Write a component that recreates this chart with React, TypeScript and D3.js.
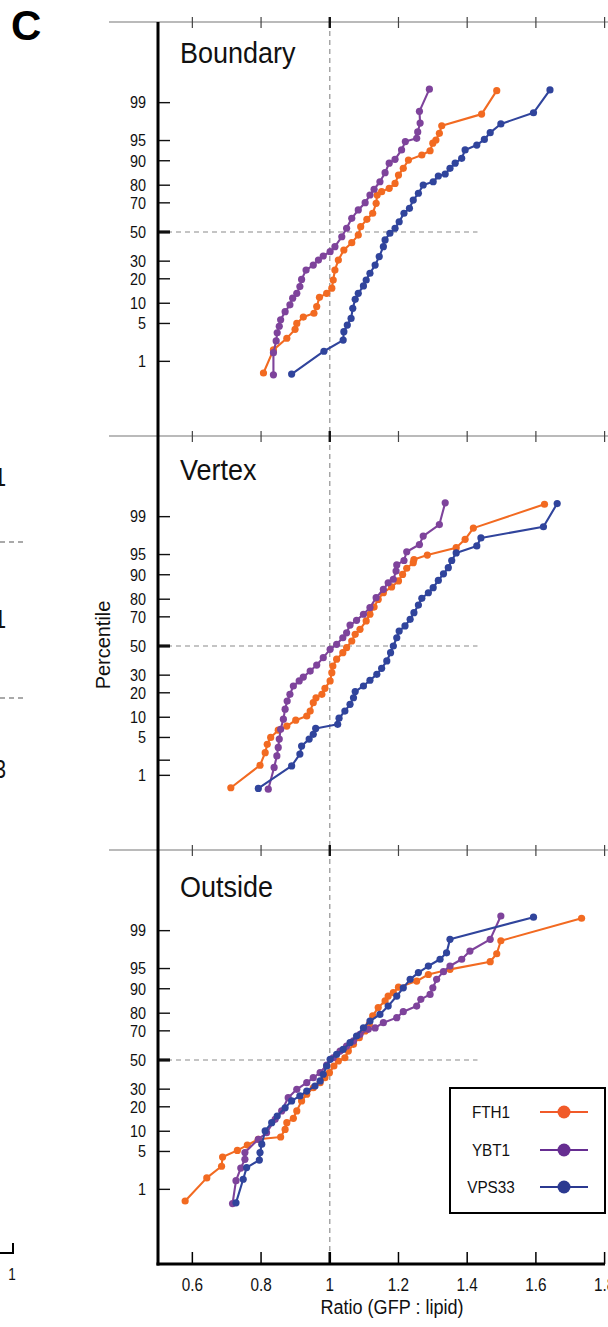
import { useEffect, useRef } from 'react'
import * as d3 from 'd3'

const panelNames = ['Boundary', 'Vertex', 'Outside']
const seriesNames = ['FTH1', 'YBT1', 'VPS33']
const xTicks = [0.6, 0.8, 1, 1.2, 1.4, 1.6, 1.8]
const xTickLabels = ['0.6', '0.8', '1', '1.2', '1.4', '1.6', '1.8']
const pctTicks = [1, 5, 10, 20, 30, 50, 70, 80, 90, 95, 99]
const pctTickLabels = ['1', '5', '10', '20', '30', '50', '70', '80', '90', '95', '99']
const vertexMinorTicks = [2]

// Boundary
const boundaryFTH1Ratio = [0.807, 0.836, 0.875, 0.899, 0.904, 0.923, 0.954, 0.962, 0.970, 0.991, 1.006, 1.010, 1.015, 1.025, 1.041, 1.064, 1.083, 1.090, 1.108, 1.125, 1.135, 1.138, 1.151, 1.173, 1.190, 1.200, 1.214, 1.229, 1.268, 1.292, 1.300, 1.309, 1.319, 1.326, 1.442, 1.486]
const boundaryFTH1Pct = [0.56, 1.7, 2.8, 4.0, 5.0, 6.3, 7.2, 9.0, 12.0, 13.5, 15.6, 19.4, 24.7, 30.7, 37.3, 42.4, 47.8, 53.8, 59.0, 63.2, 69.7, 74.7, 76.6, 78.4, 80.9, 84.7, 87.4, 90.2, 91.7, 92.8, 94.5, 95.1, 96.2, 97.2, 98.3, 99.45]
const boundaryYBT1Ratio = [0.836, 0.836, 0.844, 0.847, 0.853, 0.857, 0.870, 0.884, 0.892, 0.904, 0.913, 0.918, 0.931, 0.952, 0.967, 0.981, 1.001, 1.015, 1.035, 1.049, 1.064, 1.083, 1.103, 1.117, 1.129, 1.146, 1.161, 1.173, 1.190, 1.209, 1.220, 1.253, 1.256, 1.263, 1.261, 1.290]
const boundaryYBT1Pct = [0.51, 1.5, 2.5, 3.5, 4.5, 5.7, 7.6, 9.5, 11.7, 13.5, 16.3, 19.7, 24.7, 27.6, 30.7, 33.3, 36.2, 39.6, 46.6, 52.7, 59.7, 65.4, 70.1, 74.7, 77.9, 81.7, 85.7, 89.2, 90.45, 93.0, 94.8, 95.4, 96.4, 97.5, 98.5, 99.49]
const boundaryVPS33Ratio = [0.889, 0.983, 1.039, 1.041, 1.051, 1.062, 1.067, 1.074, 1.083, 1.098, 1.106, 1.117, 1.132, 1.144, 1.156, 1.161, 1.175, 1.190, 1.202, 1.216, 1.232, 1.243, 1.258, 1.272, 1.301, 1.316, 1.336, 1.350, 1.365, 1.384, 1.394, 1.428, 1.450, 1.467, 1.498, 1.593, 1.641]
const boundaryVPS33Pct = [0.53, 1.6, 2.6, 3.65, 4.7, 6.0, 8.5, 11.3, 13.5, 16.6, 19.4, 22.9, 27.6, 32.9, 39.6, 44.3, 49.1, 52.7, 57.3, 63.2, 66.5, 71.7, 75.7, 80.1, 81.7, 84.3, 85.15, 87.4, 89.2, 90.75, 93.0, 94.1, 95.2, 96.3, 97.4, 98.4, 99.47]

// Vertex
const vertexFTH1Ratio = [0.712, 0.797, 0.812, 0.818, 0.828, 0.850, 0.875, 0.901, 0.933, 0.943, 0.952, 0.960, 0.977, 0.986, 1.001, 1.006, 1.009, 1.020, 1.038, 1.049, 1.064, 1.074, 1.088, 1.106, 1.117, 1.129, 1.141, 1.156, 1.180, 1.200, 1.212, 1.224, 1.243, 1.245, 1.284, 1.368, 1.394, 1.418, 1.625]
const vertexFTH1Pct = [0.54, 1.6, 2.75, 3.85, 5.0, 6.5, 7.5, 9.1, 10.4, 12.1, 15.4, 17.6, 19.25, 22.3, 26.5, 31.6, 35.9, 40.6, 45.2, 48.8, 53.6, 58.3, 61.8, 67.4, 71.6, 75.8, 79.9, 83.1, 85.6, 87.9, 90.1, 91.9, 93.3, 94.0, 94.9, 96.15, 97.25, 98.3, 99.46]
const vertexYBT1Ratio = [0.821, 0.838, 0.846, 0.850, 0.853, 0.857, 0.865, 0.870, 0.876, 0.884, 0.894, 0.911, 0.923, 0.943, 0.962, 0.981, 1.001, 1.020, 1.038, 1.049, 1.059, 1.078, 1.098, 1.117, 1.135, 1.156, 1.170, 1.185, 1.193, 1.195, 1.216, 1.224, 1.261, 1.272, 1.319, 1.336]
const vertexYBT1Pct = [0.5, 1.45, 2.4, 3.4, 4.7, 6.7, 9.4, 12.8, 16.1, 19.25, 23.6, 26.5, 28.8, 32.6, 36.6, 41.7, 47.6, 51.2, 55.9, 59.4, 64.7, 67.8, 71.6, 75.5, 80.75, 84.6, 87.2, 88.5, 91.1, 92.75, 93.8, 95.5, 96.6, 97.6, 98.55, 99.5]
const vertexVPS33Ratio = [0.792, 0.889, 0.913, 0.918, 0.940, 0.952, 0.959, 1.023, 1.027, 1.044, 1.059, 1.069, 1.074, 1.098, 1.117, 1.137, 1.151, 1.166, 1.177, 1.185, 1.195, 1.202, 1.219, 1.234, 1.245, 1.258, 1.268, 1.287, 1.301, 1.316, 1.331, 1.345, 1.355, 1.368, 1.428, 1.440, 1.622, 1.662]
const vertexVPS33Pct = [0.52, 1.55, 2.6, 3.6, 4.7, 5.6, 6.9, 7.95, 9.7, 12.1, 14.7, 17.6, 20.6, 23.6, 26.9, 30.5, 34.4, 39.4, 45.2, 50, 55.9, 60.6, 64.1, 68.4, 72.55, 76.9, 80.45, 83.1, 85.3, 88.1, 90.3, 92.05, 93.8, 95.3, 96.4, 97.4, 98.4, 99.48]

// Outside
const outsideFTH1Ratio = [0.579, 0.642, 0.685, 0.688, 0.731, 0.760, 0.792, 0.857, 0.870, 0.875, 0.894, 0.904, 0.918, 0.933, 0.952, 0.972, 0.986, 0.999, 1.012, 1.025, 1.044, 1.054, 1.069, 1.086, 1.103, 1.115, 1.125, 1.141, 1.161, 1.170, 1.185, 1.200, 1.253, 1.287, 1.350, 1.467, 1.486, 1.498, 1.733]
const outsideFTH1Pct = [0.56, 1.7, 2.8, 4.05, 5.2, 6.3, 7.7, 8.3, 10.6, 13.0, 14.7, 18.0, 23.1, 26.9, 30.9, 34.2, 37.5, 41.0, 45.7, 49.3, 51.6, 56.4, 61.1, 65.6, 69.9, 73.95, 78.6, 82.7, 85.6, 87.5, 88.7, 90.5, 92.2, 93.8, 94.85, 96.15, 97.2, 98.4, 99.46]
const outsideYBT1Ratio = [0.717, 0.727, 0.741, 0.753, 0.753, 0.792, 0.816, 0.841, 0.860, 0.879, 0.904, 0.933, 0.952, 0.972, 0.991, 1.010, 1.030, 1.049, 1.069, 1.088, 1.112, 1.132, 1.156, 1.195, 1.214, 1.253, 1.265, 1.292, 1.300, 1.311, 1.331, 1.350, 1.384, 1.408, 1.467, 1.498]
const outsideYBT1Pct = [0.49, 1.5, 2.6, 3.7, 4.8, 7.7, 9.55, 14.3, 18.0, 24.9, 29.9, 34.2, 37.5, 41.0, 46.4, 51.6, 56.4, 59.9, 63.4, 67.8, 70.95, 71.8, 74.9, 77.7, 80.75, 83.4, 86.25, 88.1, 90.3, 92.65, 94.4, 95.45, 96.5, 97.5, 98.5, 99.52]
const outsideVPS33Ratio = [0.727, 0.748, 0.758, 0.795, 0.797, 0.802, 0.812, 0.831, 0.847, 0.870, 0.889, 0.913, 0.933, 0.957, 0.972, 0.981, 0.991, 1.001, 1.020, 1.039, 1.059, 1.078, 1.098, 1.117, 1.146, 1.170, 1.195, 1.214, 1.234, 1.258, 1.287, 1.321, 1.340, 1.350, 1.593]
const outsideVPS33Pct = [0.51, 1.6, 2.65, 3.6, 4.8, 6.5, 10.1, 13.0, 15.7, 19.5, 23.1, 25.9, 28.8, 32.0, 35.3, 39.9, 45.7, 50.5, 54.1, 57.6, 62.2, 66.7, 71.9, 75.8, 79.4, 83.4, 87.5, 90.3, 92.65, 94.2, 95.45, 96.5, 97.3, 98.5, 99.49]

const panelData = [
  [[boundaryFTH1Ratio, boundaryFTH1Pct], [boundaryYBT1Ratio, boundaryYBT1Pct], [boundaryVPS33Ratio, boundaryVPS33Pct]],
  [[vertexFTH1Ratio, vertexFTH1Pct], [vertexYBT1Ratio, vertexYBT1Pct], [vertexVPS33Ratio, vertexVPS33Pct]],
  [[outsideFTH1Ratio, outsideFTH1Pct], [outsideYBT1Ratio, outsideYBT1Pct], [outsideVPS33Ratio, outsideVPS33Pct]],
]

// inverse normal CDF (Acklam), used for the probability axis
function probit(p: number) {
  const a = [-39.69683028665376, 220.9460984245205, -275.9285104469687, 138.357751867269, -30.66479806614716, 2.506628277459239]
  const b = [-54.47609879822406, 161.5858368580409, -155.6989798598866, 66.80131188771972, -13.28068155288572]
  const c = [-0.007784894002430293, -0.3223964580411365, -2.400758277161838, -2.549732539343734, 4.374664141464968, 2.938163982698783]
  const d = [0.007784695709041462, 0.3224671290700398, 2.445134137142996, 3.754408661907416]
  const plow = 0.02425
  if (p < plow) {
    const q = Math.sqrt(-2 * Math.log(p))
    return (((((c[0] * q + c[1]) * q + c[2]) * q + c[3]) * q + c[4]) * q + c[5]) / ((((d[0] * q + d[1]) * q + d[2]) * q + d[3]) * q + 1)
  }
  if (p <= 1 - plow) {
    const q = p - 0.5
    const r = q * q
    return (((((a[0] * r + a[1]) * r + a[2]) * r + a[3]) * r + a[4]) * r + a[5]) * q / (((((b[0] * r + b[1]) * r + b[2]) * r + b[3]) * r + b[4]) * r + 1)
  }
  const q = Math.sqrt(-2 * Math.log(1 - p))
  return -(((((c[0] * q + c[1]) * q + c[2]) * q + c[3]) * q + c[4]) * q + c[5]) / ((((d[0] * q + d[1]) * q + d[2]) * q + d[3]) * q + 1)
}

function App() {
  const svgRef = useRef<SVGSVGElement>(null)

  useEffect(() => {
    const width = 608
    const height = 1327
    const font = "'Liberation Sans', Arial, sans-serif"
    const lineColors = ['#f26a21', '#7e439b', '#30449c']
    const legendColors = ['#f15a29', '#662d91', '#2b3990']

    const svg = d3.select(svgRef.current)
      .attr('width', width)
      .attr('height', height)
    svg.selectAll('*').remove()

    const x = d3.scaleLinear().domain([0.5, 1.8]).range([158, 604.6])
    const panelTops = [22, 436, 850]
    const titleY = [63, 480, 897]
    const bottomY = 1264

    // text helper: slightly condensed Helvetica look
    const label = (str, tx, ty, size, anchor = 'start', sx = 0.88, extra = '') =>
      svg.append('text')
        .attr('transform', `translate(${tx},${ty}) ${extra} scale(${sx},1)`)
        .attr('text-anchor', anchor)
        .attr('font-family', font)
        .attr('font-size', size)
        .attr('fill', '#111')
        .text(str)

    // vertical dashed line at ratio 1
    svg.append('line')
      .attr('x1', x(1)).attr('x2', x(1))
      .attr('y1', panelTops[0]).attr('y2', bottomY)
      .attr('stroke', '#9a9a9a').attr('stroke-width', 1.3)
      .attr('stroke-dasharray', '5,4')

    panelTops.forEach((top, pi) => {
      const y50 = top + 210
      const z = d3.scaleLinear().domain([0, 1]).range([y50, y50 - 55.6])
      const y = (p) => z(probit(p / 100))

      // top rule with crossing ticks
      svg.append('line')
        .attr('x1', 109).attr('x2', width)
        .attr('y1', top).attr('y2', top)
        .attr('stroke', '#777').attr('stroke-width', 1.2)
      svg.selectAll(null)
        .data(xTicks)
        .join('line')
        .attr('x1', d => x(d)).attr('x2', d => x(d))
        .attr('y1', top - 5).attr('y2', top + 6)
        .attr('stroke', d => d === 1 ? '#111' : '#444')
        .attr('stroke-width', d => d === 1 ? 2.4 : 1.2)

      // 50th percentile dashed guide
      svg.append('line')
        .attr('x1', x(0.5)).attr('x2', x(1.43))
        .attr('y1', y50).attr('y2', y50)
        .attr('stroke', '#8a8a8a').attr('stroke-width', 1.2)
        .attr('stroke-dasharray', '5,4')

      // y ticks
      const ticks = pi === 1 ? pctTicks.concat(vertexMinorTicks) : pctTicks
      svg.selectAll(null)
        .data(ticks)
        .join('line')
        .attr('x1', 158).attr('x2', 170)
        .attr('y1', d => y(d)).attr('y2', d => y(d))
        .attr('stroke', '#111')
        .attr('stroke-width', d => d === 50 ? 3.2 : 1.4)
      pctTicks.forEach((t, i) => {
        label(pctTickLabels[i], 146, y(t) + 5.8, 16, 'end', 0.9)
      })

      label(panelNames[pi], 180, titleY[pi], 30, 'start', 0.9)

      // series: lines and markers
      panelData[pi].forEach(([ratios, pcts], si) => {
        const pts = ratios.map((r, i) => [x(r), y(pcts[i])])
        svg.append('path')
          .attr('d', d3.line()(pts))
          .attr('fill', 'none')
          .attr('stroke', lineColors[si])
          .attr('stroke-width', 2.1)
          .attr('stroke-linejoin', 'round')
        svg.append('g')
          .selectAll('circle')
          .data(pts)
          .join('circle')
          .attr('cx', d => d[0])
          .attr('cy', d => d[1])
          .attr('r', 3.6)
          .attr('fill', lineColors[si])
      })
    })

    // left axis
    svg.append('line')
      .attr('x1', 158).attr('x2', 158)
      .attr('y1', panelTops[0]).attr('y2', bottomY + 1.5)
      .attr('stroke', '#000').attr('stroke-width', 3)

    // bottom axis
    svg.append('line')
      .attr('x1', 156.5).attr('x2', 605)
      .attr('y1', bottomY).attr('y2', bottomY)
      .attr('stroke', '#000').attr('stroke-width', 3)
    svg.selectAll(null)
      .data(xTicks)
      .join('line')
      .attr('x1', d => x(d)).attr('x2', d => x(d))
      .attr('y1', bottomY).attr('y2', bottomY - 12)
      .attr('stroke', '#000')
      .attr('stroke-width', d => d === 1 ? 2.6 : 1.5)
    xTicks.forEach((t, i) => label(xTickLabels[i], x(t), 1291, 18, 'middle', 0.85))
    label('Ratio (GFP : lipid)', 392, 1314, 21, 'middle', 0.86)

    // y axis title
    label('Percentile', 110, 645, 21, 'middle', 0.95, 'rotate(-90)')

    // panel letter
    svg.append('text')
      .attr('x', 11).attr('y', 40)
      .attr('font-family', font)
      .attr('font-weight', 'bold')
      .attr('font-size', 42)
      .text('C')

    // legend
    const legend = svg.append('g')
    legend.append('rect')
      .attr('x', 450).attr('y', 1088)
      .attr('width', 155).attr('height', 125)
      .attr('fill', '#fff').attr('stroke', '#000').attr('stroke-width', 2)
    const legendRows = [1112, 1150, 1187]
    seriesNames.forEach((name, i) => {
      label(name, 491, legendRows[i] + 6, 17, 'middle', 0.9)
      legend.append('line')
        .attr('x1', 540).attr('x2', 588)
        .attr('y1', legendRows[i]).attr('y2', legendRows[i])
        .attr('stroke', legendColors[i]).attr('stroke-width', 2)
      legend.append('circle')
        .attr('cx', 564).attr('cy', legendRows[i]).attr('r', 6.5)
        .attr('fill', legendColors[i])
    })

    // cut-off fragments of the neighbouring panel at the left edge
    label('1', 6, 486, 25, 'end', 0.85)
    label('1', 6, 628, 25, 'end', 0.85)
    label('3', 6, 778, 25, 'end', 0.85)
    ;[542, 698].forEach(yy => {
      svg.append('line')
        .attr('x1', 0).attr('x2', 23)
        .attr('y1', yy).attr('y2', yy)
        .attr('stroke', '#555').attr('stroke-width', 1.2)
        .attr('stroke-dasharray', '5,4')
    })
    svg.append('path')
      .attr('d', 'M0,1253 H13 V1243')
      .attr('fill', 'none').attr('stroke', '#000').attr('stroke-width', 2)
    label('1', 12, 1280, 16, 'middle', 0.85)
  }, [])

  return (
    <div style={{ position: 'absolute', left: 0, top: 0 }}>
      <svg ref={svgRef}></svg>
    </div>
  )
}

export default App
